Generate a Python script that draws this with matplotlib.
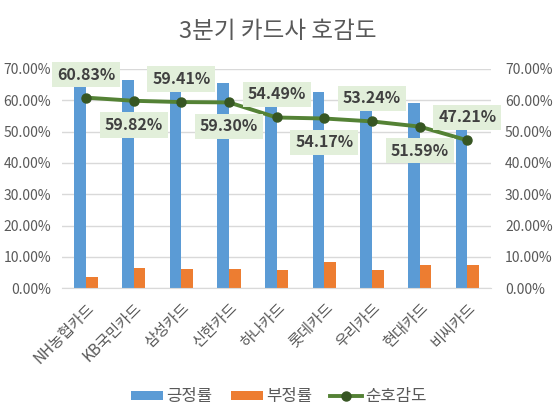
import numpy as np
import matplotlib
matplotlib.use('Agg')
import matplotlib.pyplot as plt
from matplotlib.ticker import FuncFormatter

plt.rcParams['font.family'] = ['Noto Sans CJK KR', 'DejaVu Sans']

# data
cards = ['NH농협카드', 'KB국민카드', '삼성카드', '신한카드', '하나카드',
         '롯데카드', '우리카드', '현대카드', '비씨카드']
positive = [64.33, 66.30, 65.61, 65.50, 60.30, 62.62, 59.04, 58.99, 54.61]
negative = [3.50, 6.48, 6.20, 6.20, 5.81, 8.45, 5.80, 7.40, 7.40]
net = [60.83, 59.82, 59.41, 59.30, 54.49, 54.17, 53.24, 51.59, 47.21]

BLUE = '#5b9bd5'
ORANGE = '#ed7d31'
GREEN = '#548235'
DARK = '#375623'
GRAY = '#595959'

fig = plt.figure(figsize=(5.55, 4.2), dpi=100)
ax = fig.add_axes([0.112, 0.3136, 0.773, 0.5224])

x = np.arange(len(cards))
w = 0.245
ax.bar(x - w / 2, np.array(positive) / 100, w, color=BLUE, label='긍정률', zorder=2)
ax.bar(x + w / 2, np.array(negative) / 100, w, color=ORANGE, label='부정률', zorder=2)
ax.plot(x, np.array(net) / 100, color=GREEN, lw=2.8, marker='o', ms=6.5,
        mfc=DARK, mec=DARK, label='순호감도', zorder=3)

# data labels alternate above / below
for i, v in enumerate(net):
    dy = 23 if i % 2 == 0 else -24
    ax.annotate(f'{v:.2f}%', (x[i], v / 100), xytext=(0, dy),
                textcoords='offset pixels', ha='center', va='center',
                fontsize=11.5, fontweight='bold', color='#404040', zorder=5,
                bbox=dict(boxstyle='square,pad=0.3', fc='#e2efda', ec='none'))

ax.set_xlim(-0.5, len(cards) - 0.5)
ax.set_ylim(0, 0.7)
ax.set_yticks(np.arange(0, 0.71, 0.1))
fmt = FuncFormatter(lambda v, p: f'{v * 100:.2f}%')
ax.yaxis.set_major_formatter(fmt)
ax.grid(axis='y', color='#d9d9d9', lw=1, zorder=0)
ax.set_axisbelow(True)
for s in ax.spines.values():
    s.set_visible(False)
ax.spines['bottom'].set_visible(True)
ax.spines['bottom'].set_color('#d9d9d9')
ax.tick_params(axis='both', length=0, colors=GRAY, labelsize=10)
ax.tick_params(axis='y', pad=8)
ax.set_xticks(x)
ax.set_xticklabels(cards, rotation=45, ha='right', rotation_mode='anchor',
                   fontsize=11)
ax.tick_params(axis='x', pad=8)

ax2 = ax.twinx()
ax2.set_ylim(0, 0.7)
ax2.set_yticks(np.arange(0, 0.71, 0.1))
ax2.yaxis.set_major_formatter(fmt)
for s in ax2.spines.values():
    s.set_visible(False)
ax2.tick_params(axis='y', length=0, colors=GRAY, labelsize=10, pad=10)

fig.text(0.5, 0.925, '3분기 카드사 호감도', ha='center', va='center',
         fontsize=17, color=GRAY)

h, l = ax.get_legend_handles_labels()
order = [1, 2, 0]
fig.legend([h[i] for i in order], [l[i] for i in order], loc='center',
           bbox_to_anchor=(0.503, 0.055), ncol=3, frameon=False,
           fontsize=12, labelcolor=GRAY, handlelength=1.9, handleheight=0.45,
           columnspacing=1.1, handletextpad=0.2)

fig.savefig('out.png', dpi=100)
